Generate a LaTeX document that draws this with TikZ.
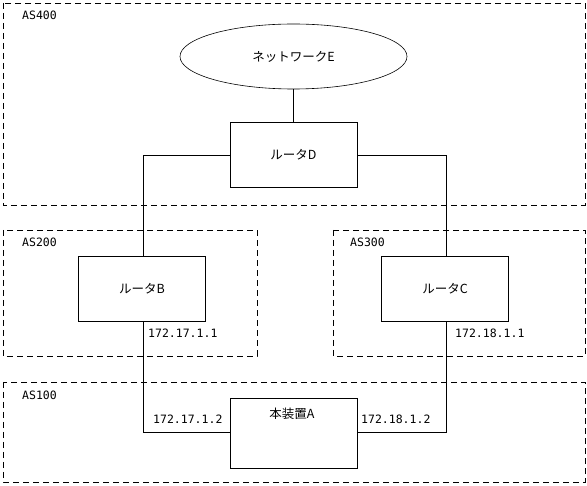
\documentclass[tikz,border=0pt]{standalone}
\usepackage{fontspec}
\setmainfont{Noto Sans CJK JP}
\newfontfamily\labelmono{DejaVu Sans Mono}
\usetikzlibrary{shapes.geometric}
\begin{document}
\begin{tikzpicture}[x=1pt,y=-1pt,
  asbox/.style={draw,dash pattern=on 6pt off 4pt,line width=0.9pt},
  jpfont/.style={font=\fontsize{12.5}{14}\selectfont},
  router/.style={draw,line width=0.9pt,minimum width=127pt,minimum height=65pt,inner sep=0pt,jpfont},
  lbl/.style={font=\labelmono\fontsize{11.5}{13}\selectfont,inner sep=0pt,anchor=west},
  link/.style={line width=0.9pt}]
\useasboundingbox (0,0) rectangle (587,486);
% AS areas
\draw[asbox] (3,3) rectangle (585,205);
\draw[asbox] (3,230) rectangle (257,356);
\draw[asbox] (333,230) rectangle (585,356);
\draw[asbox] (3,382) rectangle (585,482);
\node[lbl] (as400) at (22,15) {AS400};
\node[lbl] (as200) at (22,242) {AS200};
\node[lbl] (as300) at (350,242) {AS300};
\node[lbl] (as100) at (22,395) {AS100};
% nodes
\node[draw,ellipse,line width=0.6pt,minimum width=227pt,minimum height=65pt,inner sep=0pt,jpfont] (e) at (293.5,56.5) {ネットワークE};
\node[router] (d) at (293.5,154.5) {ルータD};
\node[router] (b) at (142,288.5) {ルータB};
\node[router] (c) at (445,288.5) {ルータC};
\node[draw,line width=0.9pt,minimum width=127pt,minimum height=70pt,inner sep=0pt] (a) at (293.5,433) {};
\node[jpfont,inner sep=0pt] (atext) at (292,414) {本装置A};
% links
\draw[link] (e.south) -- (d.north);
\coordinate (dl) at (143,155);
\coordinate (dr) at (446,155);
\draw[link] (d.west |- dl) -- (dl) -- (dl |- b.north);
\draw[link] (d.east |- dr) -- (dr) -- (dr |- c.north);
\coordinate (al) at (143,432);
\coordinate (ar) at (446,432);
\draw[link] (al |- b.south) -- (al) -- (a.west |- al);
\draw[link] (ar |- c.south) -- (ar) -- (a.east |- ar);
% address labels
\node[lbl] (ipb) at (148,333) {172.17.1.1};
\node[lbl] (ipc) at (455,333) {172.18.1.1};
\node[lbl] (ipa1) at (153,419) {172.17.1.2};
\node[lbl] (ipa2) at (361,419) {172.18.1.2};
\end{tikzpicture}
\end{document}
